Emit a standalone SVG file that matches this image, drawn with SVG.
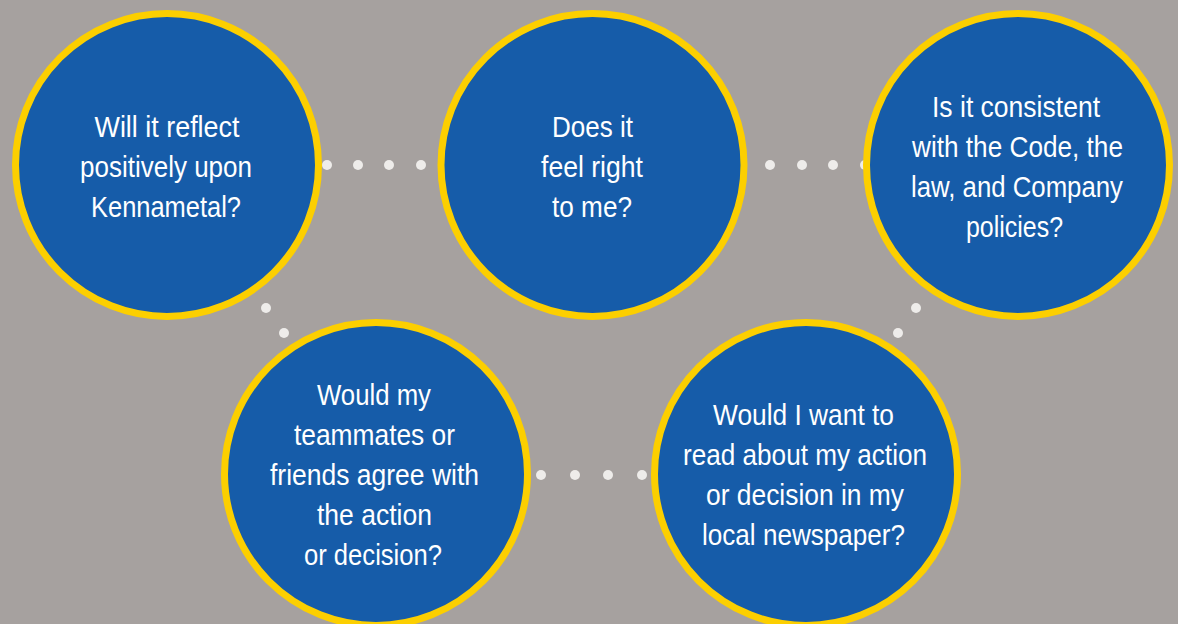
<svg xmlns="http://www.w3.org/2000/svg" width="1178" height="624" viewBox="0 0 1178 624">
<style>
.bg{fill:#a6a19f}
.node{fill:#165ca9;stroke:#fccf00;stroke-width:7}
.dot{fill:#eeecea}
.t{font-family:"Liberation Sans Narrow","Liberation Sans",Arial,sans-serif;font-size:30px;fill:#ffffff;text-anchor:middle}
</style>
<rect class="bg" x="0" y="0" width="1178" height="624"/>
<g id="connectors">
<circle class="dot" cx="327" cy="165" r="5"/>
<circle class="dot" cx="358" cy="165" r="5"/>
<circle class="dot" cx="389" cy="165" r="5"/>
<circle class="dot" cx="421" cy="165" r="5"/>
<circle class="dot" cx="770" cy="165" r="5"/>
<circle class="dot" cx="802" cy="165" r="5"/>
<circle class="dot" cx="833" cy="165" r="5"/>
<circle class="dot" cx="865" cy="165" r="5"/>
<circle class="dot" cx="266" cy="308" r="5"/>
<circle class="dot" cx="284" cy="333" r="5"/>
<circle class="dot" cx="916" cy="308" r="5"/>
<circle class="dot" cx="898" cy="333" r="5"/>
<circle class="dot" cx="541" cy="475" r="5"/>
<circle class="dot" cx="575" cy="475" r="5"/>
<circle class="dot" cx="608" cy="475" r="5"/>
<circle class="dot" cx="642" cy="475" r="5"/>
</g>
<g id="node-reflect">
<circle class="node" cx="167" cy="165" r="151.5"/>
<text class="t" x="167" y="137" textLength="145" lengthAdjust="spacingAndGlyphs">Will it reflect</text>
<text class="t" x="166" y="177" textLength="172" lengthAdjust="spacingAndGlyphs">positively upon</text>
<text class="t" x="166" y="217" textLength="150" lengthAdjust="spacingAndGlyphs">Kennametal?</text>
</g>
<g id="node-feel">
<circle class="node" cx="592.5" cy="165" r="151.5"/>
<text class="t" x="592.5" y="137" textLength="81" lengthAdjust="spacingAndGlyphs">Does it</text>
<text class="t" x="592" y="177" textLength="102" lengthAdjust="spacingAndGlyphs">feel right</text>
<text class="t" x="592" y="217" textLength="80" lengthAdjust="spacingAndGlyphs">to me?</text>
</g>
<g id="node-consistent">
<circle class="node" cx="1018" cy="165" r="151.5"/>
<text class="t" x="1016" y="117" textLength="168" lengthAdjust="spacingAndGlyphs">Is it consistent</text>
<text class="t" x="1017.5" y="157" textLength="211" lengthAdjust="spacingAndGlyphs">with the Code, the</text>
<text class="t" x="1017" y="197" textLength="212" lengthAdjust="spacingAndGlyphs">law, and Company</text>
<text class="t" x="1014.5" y="237" textLength="97" lengthAdjust="spacingAndGlyphs">policies?</text>
</g>
<g id="node-teammates">
<circle class="node" cx="376" cy="474" r="151.5"/>
<text class="t" x="374" y="405" textLength="114" lengthAdjust="spacingAndGlyphs">Would my</text>
<text class="t" x="374.5" y="445" textLength="161" lengthAdjust="spacingAndGlyphs">teammates or</text>
<text class="t" x="374.5" y="485" textLength="209" lengthAdjust="spacingAndGlyphs">friends agree with</text>
<text class="t" x="374.5" y="525" textLength="115" lengthAdjust="spacingAndGlyphs">the action</text>
<text class="t" x="373" y="565" textLength="138" lengthAdjust="spacingAndGlyphs">or decision?</text>
</g>
<g id="node-newspaper">
<circle class="node" cx="806" cy="474" r="151.5"/>
<text class="t" x="803.5" y="425" textLength="181" lengthAdjust="spacingAndGlyphs">Would I want to</text>
<text class="t" x="805" y="465" textLength="244" lengthAdjust="spacingAndGlyphs">read about my action</text>
<text class="t" x="805" y="505" textLength="198" lengthAdjust="spacingAndGlyphs">or decision in my</text>
<text class="t" x="803.5" y="545" textLength="203" lengthAdjust="spacingAndGlyphs">local newspaper?</text>
</g>
</svg>
